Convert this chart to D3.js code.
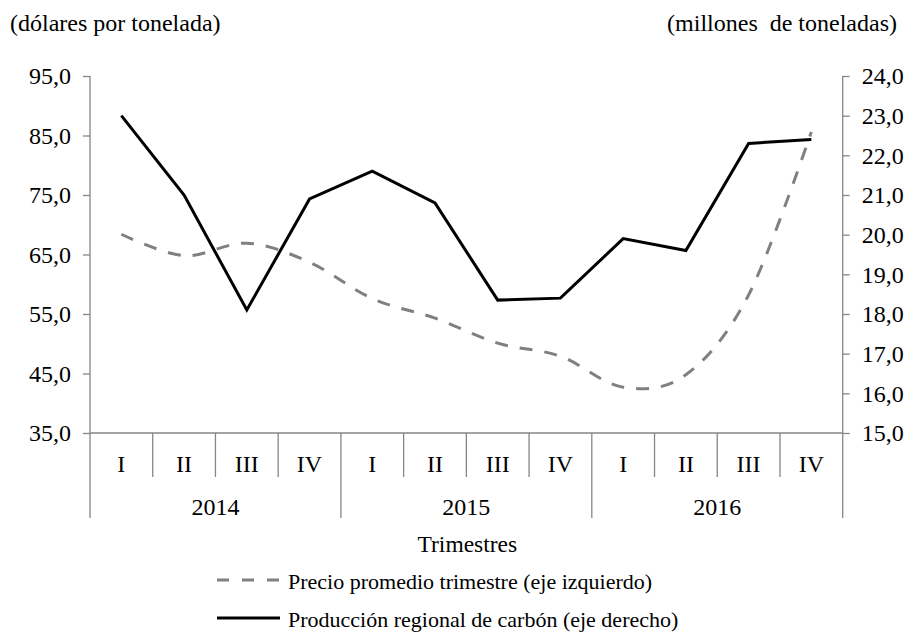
<!DOCTYPE html>
<html>
<head>
<meta charset="utf-8">
<script src="https://cdn.jsdelivr.net/npm/d3@7"></script>
<style>
  html, body { margin: 0; padding: 0; background: #fff; }
  svg text { font-family: "Liberation Serif", "DejaVu Serif", "Noto Serif", serif !important; fill: #000; }
</style>
</head>
<body>
<svg id="chart" width="912" height="632" font-family="Liberation Serif, DejaVu Serif, serif"></svg>
<script>
const quarters = ["I","II","III","IV","I","II","III","IV","I","II","III","IV"];
const years = ["2014","2015","2016"];
const precio = [68.4, 64.8, 66.9, 63.7, 57.6, 54.3, 50.1, 47.9, 42.7, 44.8, 58.2, 85.6];
const produccion = [23.0, 21.0, 18.1, 20.9, 21.6, 20.8, 18.35, 18.4, 19.9, 19.6, 22.3, 22.4];
const leftTicks = [35, 45, 55, 65, 75, 85, 95];
const rightTicks = [15, 16, 17, 18, 19, 20, 21, 22, 23, 24];
const leftTitle = "(dólares por tonelada)";
const rightTitle = "(millones  de toneladas)";
const xTitle = "Trimestres";
const legendLabels = ["Precio promedio trimestre (eje izquierdo)", "Producción regional de carbón (eje derecho)"];

const svg = d3.select("#chart");
const L = 90, R = 842.7, T = 76, B = 433;
const axisColor = "#868686";
const fs = 24;
const fmt = v => d3.format(".1f")(v).replace(".", ",");

const x = d3.scaleBand().domain(d3.range(quarters.length)).range([L, R]).padding(0);
const yL = d3.scaleLinear().domain([35, 95]).range([B, T]);
const yR = d3.scaleLinear().domain([15, 24]).range([B, T]);
const cx = i => x(i) + x.bandwidth() / 2;

// Left axis
const gL = svg.append("g").attr("transform", `translate(${L},0)`)
  .call(d3.axisLeft(yL).tickValues(leftTicks).tickSize(7).tickSizeOuter(0).tickPadding(12).tickFormat(fmt));
gL.attr("font-family", null).attr("font-size", null);
gL.select(".domain").remove();
gL.selectAll(".tick line").attr("stroke", axisColor).attr("stroke-width", 1.3);
gL.selectAll(".tick text").attr("font-size", fs);

// Right axis
const gR = svg.append("g").attr("transform", `translate(${R},0)`)
  .call(d3.axisRight(yR).tickValues(rightTicks).tickSize(7).tickSizeOuter(0).tickPadding(12).tickFormat(fmt));
gR.attr("font-family", null).attr("font-size", null);
gR.select(".domain").remove();
gR.selectAll(".tick line").attr("stroke", axisColor).attr("stroke-width", 1.3);
gR.selectAll(".tick text").attr("font-size", fs);

// Axis frame lines
const frame = svg.append("g").attr("stroke", axisColor).attr("stroke-width", 1.3).attr("fill", "none");
frame.append("line").attr("x1", L).attr("x2", L).attr("y1", T).attr("y2", 518);
frame.append("line").attr("x1", R).attr("x2", R).attr("y1", T).attr("y2", 518);
frame.append("line").attr("x1", L).attr("x2", R).attr("y1", B).attr("y2", B);
d3.range(1, quarters.length).forEach(k => {
  const xx = x(k);
  const isYear = k % 4 === 0;
  frame.append("line").attr("x1", xx).attr("x2", xx).attr("y1", B).attr("y2", isYear ? 518 : 477);
});

// Category labels
svg.append("g").selectAll("text").data(quarters).join("text")
  .attr("x", (d, i) => cx(i)).attr("y", 472)
  .attr("text-anchor", "middle").attr("font-size", fs).text(d => d);
svg.append("g").selectAll("text").data(years).join("text")
  .attr("x", (d, i) => (x(i * 4) + x(i * 4 + 3) + x.bandwidth()) / 2).attr("y", 515)
  .attr("text-anchor", "middle").attr("font-size", fs).text(d => d);

// Titles
svg.append("text").attr("x", 10).attr("y", 31).attr("font-size", fs).text(leftTitle);
svg.append("text").attr("x", 897).attr("y", 31).attr("text-anchor", "end").attr("font-size", fs)
  .style("white-space", "pre").text(rightTitle);
svg.append("text").attr("x", (L + R) / 2 + 1).attr("y", 552).attr("text-anchor", "middle").attr("font-size", 23.5).text(xTitle);

// Lines
const linePrecio = d3.line().x((d, i) => cx(i)).y(d => yL(d)).curve(d3.curveCatmullRom.alpha(0));
const lineProd = d3.line().x((d, i) => cx(i)).y(d => yR(d));

svg.append("path").datum(precio).attr("d", linePrecio)
  .attr("fill", "none").attr("stroke", "#808080").attr("stroke-width", 3).attr("stroke-dasharray", "13,12");
svg.append("path").datum(produccion).attr("d", lineProd)
  .attr("fill", "none").attr("stroke", "#000").attr("stroke-width", 3).attr("stroke-linejoin", "miter");

// Legend
const legY = [580, 618];
const lg = svg.append("g");
lg.append("line").attr("x1", 217).attr("x2", 280).attr("y1", legY[0]).attr("y2", legY[0])
  .attr("stroke", "#808080").attr("stroke-width", 3).attr("stroke-dasharray", "12,13");
lg.append("line").attr("x1", 217).attr("x2", 280).attr("y1", legY[1]).attr("y2", legY[1])
  .attr("stroke", "#000").attr("stroke-width", 3);
lg.selectAll("text").data(legendLabels).join("text")
  .attr("x", 288).attr("y", (d, i) => legY[i] + 9).attr("font-size", 22).text(d => d);
</script>
</body>
</html>
